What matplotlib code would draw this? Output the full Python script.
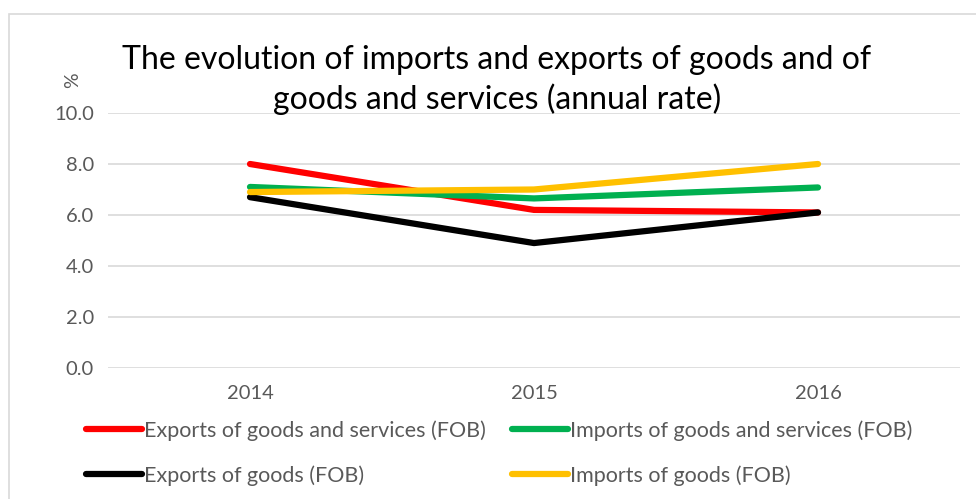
import matplotlib.pyplot as plt
from matplotlib.patches import Rectangle

plt.rcParams['font.family'] = ['Lato', 'DejaVu Sans']

# data
years = ["2014", "2015", "2016"]
exp_gs = [8.0, 6.2, 6.1]
imp_gs = [7.1, 6.65, 7.08]
exp_g = [6.7, 4.9, 6.1]
imp_g = [6.9, 7.0, 8.0]

series = [
    ("Exports of goods and services (FOB)", exp_gs, "#ff0000"),
    ("Imports of goods and services (FOB)", imp_gs, "#00b050"),
    ("Exports of goods (FOB)", exp_g, "#000000"),
    ("Imports of goods (FOB)", imp_g, "#ffc000"),
]

W, H = 976, 499
fig = plt.figure(figsize=(W / 100, H / 100), dpi=100)
ax = fig.add_axes([108 / W, 1 - 368 / H, (960 - 108) / W, (368 - 113) / H])

# outer chart frame
fig.patches.append(Rectangle((9 / W, -0.1), 1.2, 1 - 14 / H + 0.1,
                             transform=fig.transFigure, fill=False,
                             edgecolor="#d9d9d9", lw=1.2))

x = range(len(years))
for label, vals, color in series:
    ax.plot(x, vals, color=color, lw=4.5, solid_capstyle="round", label=label)

ax.set_xlim(-0.5, 2.5)
ax.set_ylim(0, 10)
ax.set_yticks([0, 2, 4, 6, 8, 10])
ax.set_yticklabels([f"{v:.1f}" for v in [0, 2, 4, 6, 8, 10]])
ax.set_xticks(list(x))
ax.set_xticklabels(years)
ax.grid(axis="y", color="#d9d9d9", lw=1.2)
ax.set_axisbelow(True)
for s in ax.spines.values():
    s.set_visible(False)
ax.tick_params(length=0, labelsize=14.5, colors="#595959", pad=10)
ax.tick_params(axis="x", pad=12)

fig.text(497 / W, 1 - 80 / H,
         "The evolution of imports and exports of goods and of\ngoods and services (annual rate)",
         ha="center", va="center", fontsize=23, color="#000000", linespacing=1.3)
fig.text(73 / W, 1 - 80 / H, "%", rotation=90, ha="center", va="center",
         fontsize=14, color="#595959")

# legend filled row by row
handles, labels = ax.get_legend_handles_labels()
order = [0, 2, 1, 3]
leg = fig.legend([handles[i] for i in order], [labels[i] for i in order],
                 ncol=2, loc="upper left",
                 bbox_to_anchor=(86 / W, 1 - 420 / H), frameon=False,
                 borderpad=0, borderaxespad=0,
                 fontsize=15.5, handlelength=2.6, handletextpad=0.1,
                 columnspacing=1.2, labelspacing=1.15, labelcolor="#595959")

fig.savefig("out.png", dpi=100)
